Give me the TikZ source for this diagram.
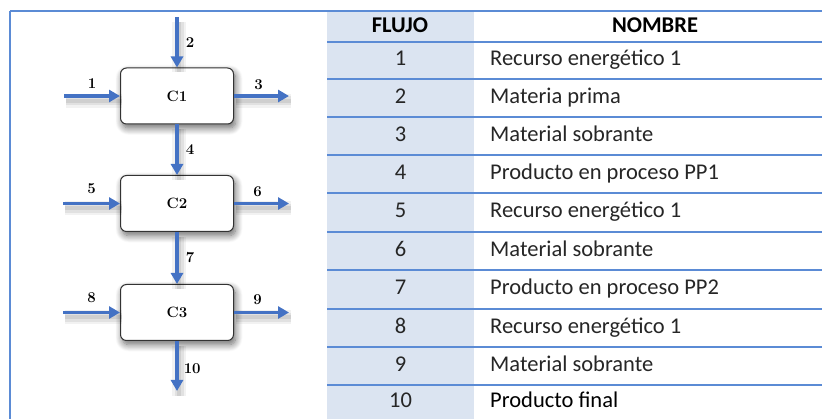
\documentclass[tikz,border=0pt]{standalone}
\usepackage{fontspec}
\newfontfamily\tabfont{Carlito}
\usetikzlibrary{arrows.meta,shadows.blur}

\definecolor{flowblue}{RGB}{68,114,196}
\definecolor{rulecol}{RGB}{91,139,213}
\definecolor{colshade}{RGB}{219,228,241}
\definecolor{ink}{RGB}{38,38,38}

\begin{document}
\begin{tikzpicture}[x=1pt,y=-1pt,
  stage/.style={draw=black!80, line width=1pt, rounded corners=6pt,
    minimum width=113pt, minimum height=56pt, fill=white,
    blur shadow={shadow xshift=2pt, shadow yshift=-4pt,
      shadow blur radius=7pt, shadow blur steps=10, shadow opacity=60},
    font=\bfseries\fontsize{15}{18}\selectfont},
  flow/.style={draw=flowblue, line width=3.5pt,
    -{Triangle[length=11pt,width=12pt]},
    preaction={draw=black, draw opacity=.05, line width=14pt, arrows=-,
      transform canvas={shift={(2pt,-5pt)}}},
    preaction={draw=black, draw opacity=.07, line width=9pt, arrows=-,
      transform canvas={shift={(2pt,-5pt)}}},
    preaction={draw=black, draw opacity=.08, line width=4pt, arrows=-,
      transform canvas={shift={(2pt,-5pt)}}}},
  flowlbl/.style={font=\bfseries\fontsize{15}{18}\selectfont, inner sep=0pt},
  tabrule/.style={draw=rulecol, line width=2pt},
  cell/.style={font=\tabfont\fontsize{22.5}{26}\selectfont, text=ink,
    inner sep=0pt, text height=15pt, text depth=4pt},
  headcell/.style={cell, font=\tabfont\bfseries\fontsize{22.5}{26}\selectfont, text=black}
]
\useasboundingbox (0,0) rectangle (822,419);

% ---------- table ----------
\fill[colshade] (327,12) rectangle (474,419);
\draw[tabrule] (10,11) -- (822,11);
\draw[tabrule] (10,11) -- (10,419);
\foreach \yy in {42,79,117,155,193,232,270,309,347,385}
  \draw[tabrule] (327,\yy) -- (822,\yy);

\node[headcell] (hflujo) at (400,27) {FLUJO};
\node[headcell] (hnombre) at (655,27) {NOMBRE};

\foreach \i/\yc/\txt in {
  1/60.5/{Recurso energético 1},
  2/98/{Materia prima},
  3/136/{Material sobrante},
  4/174/{Producto en proceso PP1},
  5/212.5/{Recurso energético 1},
  6/251/{Material sobrante},
  7/289.5/{Producto en proceso PP2},
  8/328/{Recurso energético 1},
  9/366/{Material sobrante}}
{
  \node[cell] (num\i) at (400.5,\yc) {\i};
  \node[cell, anchor=west] (name\i) at (490,\yc) {\txt};
}
\node[cell] (num10) at (400.5,402) {10};
\node[cell, anchor=west, text=black] (name10) at (490,402) {Producto final};

% ---------- process stages ----------
\node[stage] (c1) at (177,96) {C1};
\node[stage] (c2) at (177,203.5) {C2};
\node[stage] (c3) at (177,312.5) {C3};

% free ends of the flows
\coordinate (in1) at (64,96);
\coordinate (in2) at (177,17);
\coordinate (out3) at (289,96);
\coordinate (in5) at (63,203.5);
\coordinate (out6) at (289,203.5);
\coordinate (in8) at (63,312.5);
\coordinate (out9) at (289,312.5);
\coordinate (out10) at (177,391);

\draw[flow] (in1) -- node[flowlbl, above=6pt] (l1) {1} (c1.west);
\draw[flow] (in2) -- node[flowlbl, right=7pt] (l2) {2} (c1.north);
\draw[flow] (c1.east) -- node[flowlbl, above=5pt, xshift=-3pt] (l3) {3} (out3);
\draw[flow] (c1.south) -- node[flowlbl, right=7pt] (l4) {4} (c2.north);
\draw[flow] (in5) -- node[flowlbl, above=8pt] (l5) {5} (c2.west);
\draw[flow] (c2.east) -- node[flowlbl, above=5pt, xshift=-4pt] (l6) {6} (out6);
\draw[flow] (c2.south) -- node[flowlbl, right=7pt] (l7) {7} (c3.north);
\draw[flow] (in8) -- node[flowlbl, above=8pt] (l8) {8} (c3.west);
\draw[flow] (c3.east) -- node[flowlbl, above=6pt, xshift=-4pt] (l9) {9} (out9);
\draw[flow] (c3.south) -- node[flowlbl, right=5pt, yshift=-3pt] (l10) {10} (out10);
\end{tikzpicture}
\end{document}
